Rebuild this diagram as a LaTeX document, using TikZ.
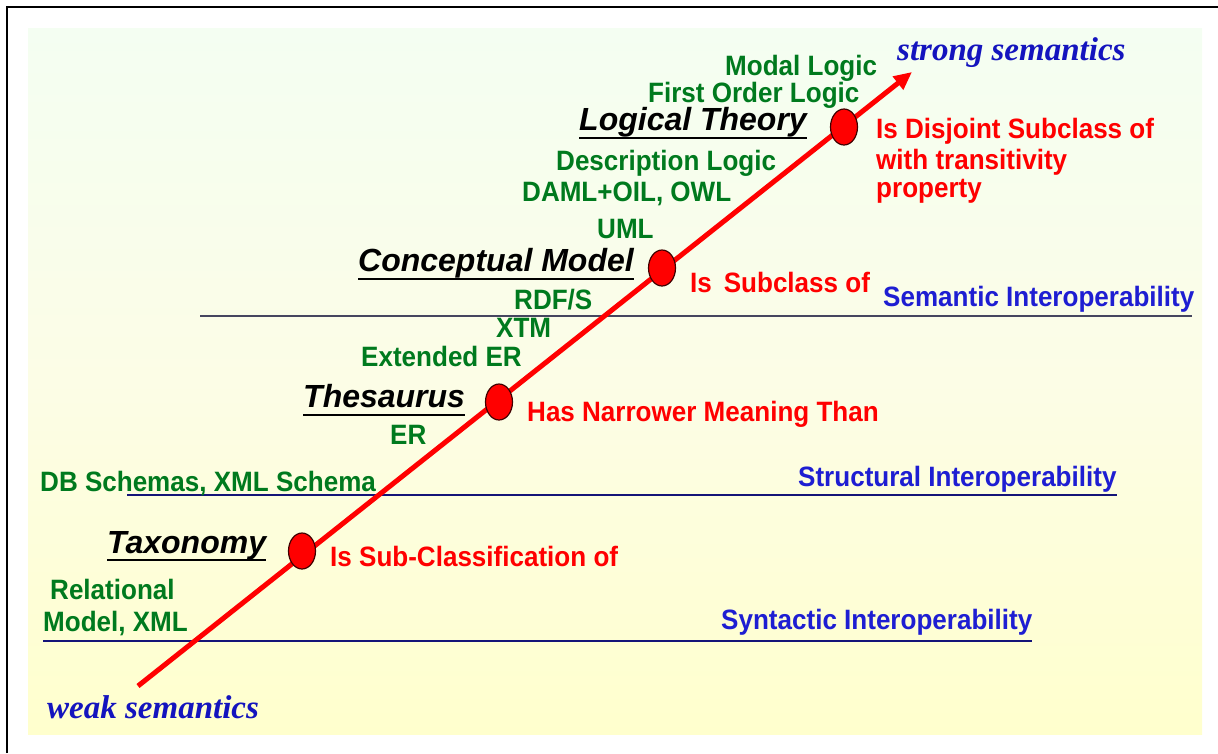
\documentclass[tikz,border=0pt]{standalone}
\usepackage{fontspec}
\setmainfont{Liberation Sans}
\newfontfamily\lblfont{Liberation Sans}[FakeStretch=0.93]
\newfontfamily\semserif{Liberation Serif}
\usetikzlibrary{arrows.meta,calc,shapes.geometric}
\definecolor{lblgreen}{RGB}{0,122,30}
\definecolor{lblred}{RGB}{255,0,0}
\definecolor{lblblue}{RGB}{30,30,210}
\definecolor{semblue}{RGB}{20,20,190}
\definecolor{linenavy}{RGB}{20,20,120}
\definecolor{linegray}{RGB}{70,70,95}
\definecolor{bgtop}{RGB}{244,254,242}
\definecolor{bgmid}{RGB}{252,253,230}
\definecolor{bgbot}{RGB}{255,255,205}
\begin{document}
\begin{tikzpicture}[x=1pt,y=-1pt,
  lbl/.style={inner sep=0pt, anchor=base west, font=\lblfont\fontsize{28}{32}\selectfont\bfseries},
  greenlbl/.style={lbl,text=lblgreen},
  redlbl/.style={lbl,text=lblred},
  interop/.style={lbl,text=lblblue},
  heading/.style={inner sep=0pt, anchor=base west, text=black, font=\fontsize{32}{36}\selectfont\bfseries\itshape},
  semlbl/.style={inner sep=0pt, anchor=base west, text=semblue, font=\fontsize{33}{36}\selectfont\semserif\bfseries\itshape},
  levelline/.style={draw=linenavy, line width=1.5pt},
  dotnode/.style={ellipse, minimum width=27pt, minimum height=36pt, fill=red, draw=black!75!red, line width=1.2pt, inner sep=0pt},
  axisline/.style={draw=red, line width=5pt, -{Triangle[length=18pt,width=16pt]}},
  uline/.style={draw=black, line width=2.5pt}
]
\useasboundingbox (0,0) rectangle (1218,753);
% background
\shade[top color=bgtop, bottom color=bgbot, middle color=bgmid, draw=none] (28,28) rectangle (1202,734);
% frame (left and top only visible)
\draw[line width=2.5pt, black] (7,753) -- (7,7) -- (1218,7);

% interoperability levels
\coordinate (semL) at (200,316);   \coordinate (semR) at (1192,316);
\coordinate (strL) at (127,495);   \coordinate (strR) at (1117,495);
\coordinate (synL) at (43,641);    \coordinate (synR) at (1032,641);
\draw[levelline, draw=linegray] (semL) -- (semR);
\draw[levelline] (strL) -- (strR);
\draw[levelline] (synL) -- (synR);

% main axis
\coordinate (tail) at (138,686);
\coordinate (head) at (912,72);
\draw[axisline] (tail) -- (head);

% dots
\node[dotnode] (dtax) at (302,551) {};
\node[dotnode] (dthe) at (499,402) {};
\node[dotnode] (dcon) at (662,268) {};
\node[dotnode] (dlog) at (844,127) {};

% semantics labels
\node[semlbl] (strong) at (897,60) {strong semantics};
\node[semlbl] (weak) at (47,718) {weak semantics};

% headings
\node[heading] (hlog) at (579,130) {Logical Theory};
\node[heading] (hcon) at (358,271) {Conceptual Model};
\node[heading] (hthe) at (303,407) {Thesaurus};
\node[heading] (htax) at (107,553) {Taxonomy};
\draw[uline] ($(hlog.base west)+(0,8)$) -- ($(hlog.base east)+(0,8)$);
\draw[uline] ($(hcon.base west)+(0,8)$) -- ($(hcon.base east)+(0,8)$);
\draw[uline] ($(hthe.base west)+(0,8)$) -- ($(hthe.base east)+(0,8)$);
\draw[uline] ($(htax.base west)+(0,7)$) -- ($(htax.base east)+(0,7)$);

% green labels
\node[greenlbl] (modal) at (725,75) {Modal Logic};
\node[greenlbl] (fol) at (648,102) {First Order Logic};
\node[greenlbl] (desc) at (556,170) {Description Logic};
\node[greenlbl] (daml) at (522,201) {DAML+OIL, OWL};
\node[greenlbl] (uml) at (597,238) {UML};
\node[greenlbl] (rdfs) at (514,309) {RDF/S};
\node[greenlbl] (xtm) at (496,337) {XTM};
\node[greenlbl] (eer) at (361,366) {Extended ER};
\node[greenlbl] (er) at (390,444) {ER};
\node[greenlbl] (dbs) at (40,491) {DB Schemas, XML Schema};
\node[greenlbl] (rel) at (50,599) {Relational};
\node[greenlbl] (relm) at (43,631) {Model, XML};

% red relation labels
\node[redlbl] (disj1) at (876,138) {Is Disjoint Subclass of};
\node[redlbl] (disj2) at (876,169) {with transitivity};
\node[redlbl] (disj3) at (876,197) {property};
\node[redlbl] (subc) at (690,292) {Is\, Subclass of};
\node[redlbl] (narrow) at (527,421) {Has Narrower Meaning Than};
\node[redlbl] (subcl) at (330,566) {Is Sub-Classification of};

% interoperability labels
\node[interop] (isem) at (883,306) {Semantic Interoperability};
\node[interop] (istr) at (798,486) {Structural Interoperability};
\node[interop] (isyn) at (721,629) {Syntactic Interoperability};
\end{tikzpicture}
\end{document}
